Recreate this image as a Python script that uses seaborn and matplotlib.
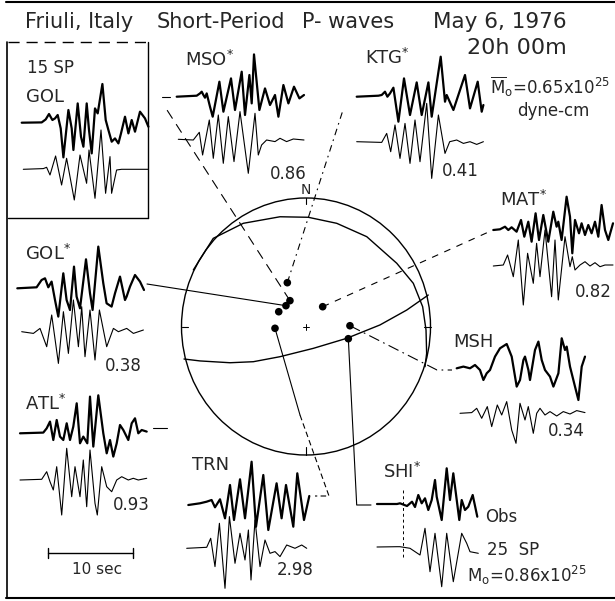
import matplotlib
matplotlib.use("Agg")
import matplotlib.pyplot as plt
import seaborn as sns
import pandas as pd
from matplotlib.patches import Ellipse

sns.set_theme(style="white")
plt.rcParams['font.family'] = ['DejaVu Sans']

# ---------------- data ----------------
# Waveforms: (time, amplitude) pairs; time in scale-bar units (85 units = 10 s),
# amplitude in relative units (positive = up)
GOL15_OBS = [(0,0),(20,0.3),(24,3.3),(27.3,8.7),(30.7,2.7),(33.3,4.3),(36,7.7),(39,-5.7),(41.7,-34.7),(46.7,12.7),(50,-5.7),(51.7,-27.3),(56,19.3),(59.3,-14),(61.7,-24),(65,19.3),(67.3,-7.3),(70,-30.7),(73.3,14.3),(76,9.3),(80.7,38.7),(84,2.7),(86.7,-7.3),(90,-19),(93.3,-15.7),(96.7,-20.7),(99.3,-10.7),(103.3,6),(106.7,-10.7),(110,2.7),(113.3,-9),(118.3,11),(123.3,4.3),(126.7,-4)]
GOL15_SYN = [(0,0),(20,0.7),(23.3,2),(26.7,-5.7),(32.3,13.3),(38.3,-15.7),(43.3,11),(51,-30.7),(56.7,14.3),(63.3,-14),(65.7,19.3),(71.7,-29),(77.7,39.3),(82.3,-24),(86.7,12.7),(88.3,-24),(93.3,-0.7),(98.3,0),(125,0)]
MSO_OBS = [(0,0),(20,1),(23.3,3.3),(25,5),(26.7,1.7),(28.3,-1),(30,3.3),(33.3,-10),(36,-20),(42.7,15),(46.7,-15),(54.3,18.3),(58.3,-13.3),(65,25),(68.3,-18.3),(72.7,21.7),(75,-6.7),(77.3,42.3),(82.7,-13.3),(88.3,8.3),(93.3,-8.3),(98.3,1.7),(101.7,-20),(106.7,11.7),(111.7,-6.7),(117.3,10),(122.7,-1.7),(127.3,1.7)]
MSO_SYN = [(0,0),(15,-0.7),(21,7),(24.3,-15.7),(31,19.3),(35,-19),(40,24.3),(45,-24),(50,22.7),(55.7,-22.3),(61.7,27.7),(70,-34),(76.7,26),(80,-15.7),(83.3,-5.7),(88.3,-0.7),(96.7,-2.3),(101.7,1),(108.3,-2.3),(115,0.3),(125.7,-0.7)]
KTG_OBS = [(0,0),(21.7,1),(25,1.7),(28.3,5),(30.7,0),(33.3,3.3),(36.7,9),(41.7,-25),(47.3,18.3),(53.3,-18.3),(60,14.3),(65,-18.3),(71.7,14.3),(75,-20),(84,40),(88.3,-5),(90,1.7),(96.7,-13.3),(108.3,21.7),(113.3,-11.7),(121,15),(125,-15),(126.7,-8.3)]
KTG_SYN = [(0,0),(25,-0.7),(30,8.3),(34,-10),(38.3,16.7),(43.3,-16.7),(48.3,18.3),(53.3,-21.7),(58.3,21.7),(63.3,-20),(70,38.3),(75,-36.7),(81.7,26.7),(88.3,-11.7),(93,0),(100,1.7),(106.7,-1.7),(113.3,0),(120,-2.7),(126.7,0)]
MAT_OBS = [(0,0),(6.7,0.7),(11.7,3.3),(15,0),(18.3,2.7),(23.3,-1.7),(27.7,10),(31,-6.7),(35,8.3),(38.3,-11.7),(42.3,16.7),(45.7,-10),(50,15),(55,-11.7),(60,18.3),(63.3,3.3),(65,8.3),(68.3,-10),(73.3,33.3),(76.7,13.3),(79,-23.3),(81.7,10),(85.7,-3.3),(88.3,6.7),(91.7,-5),(95,5),(98.3,-3.3),(101.7,8.3),(105,-6.7),(108.3,25),(111.7,0),(115,-10),(119.7,6.7)]
MAT_SYN = [(0,0),(10,1),(14.3,11),(20,-10.7),(25,26),(30,-39),(34.3,12.7),(40,-17.3),(43.3,22.7),(46.7,-10.7),(51.7,36),(58.3,-30.7),(61.7,26),(65,-34),(71.7,29.3),(76.7,-0.7),(79,9.3),(81.7,-4),(86.7,1),(91.7,4.3),(96.7,0),(101.7,3.3),(106.7,-0.7),(111.7,1),(119.7,1)]
MSH_OBS = [(0,0),(6.7,1.7),(13.3,0),(18.3,3.3),(23.3,-1.7),(26.7,-11.7),(30,-5),(33.3,-1.7),(38.3,11.7),(43.3,20),(50,24.3),(55,11.7),(60,-18.3),(63.3,-11.7),(66.7,8.3),(68.3,11.7),(71.7,-1.7),(73.3,-11.7),(78.3,18.3),(81.7,26.7),(85,8.3),(88.3,-1.7),(93.3,-8.3),(96.7,-18.3),(101.7,-5),(105,30),(108.3,18.3),(110,21.7),(113.3,1.7),(118.3,-18.3),(121.7,-31.7),(125,1.7),(128.3,11.7)]
MSH_SYN = [(0,0),(11.7,0.7),(16.7,5),(21.7,-5),(27.3,6.7),(31.7,-13.3),(37.3,8.3),(41.7,-1.7),(46.7,11.7),(51.7,-16.7),(56,-30),(60,10),(65,-6.7),(68.3,6.7),(73.3,-20),(76.7,0),(80,5),(85,-1.7),(90,1.7),(96.7,-2.7),(103.3,1.7),(110,-0.7),(116.7,2.7),(125,0.7)]
SHI_OBS = [(0,0),(20,0),(23,0.7),(30,-2),(35,2.3),(38,-3),(41.3,9),(44.7,0.7),(48,5.7),(51.3,-6),(54.7,4),(58,24),(59.7,7.3),(64.7,-16),(69.7,35.7),(73,4),(76.3,30.7),(82.3,-16),(84.7,4),(88,-6),(91.3,-2.7),(95.7,9),(100.3,-12.7)]
SHI_SYN = [(0,0),(20,0.3),(23,0.3),(33,-1.3),(43,-8),(48,18.7),(53,-24.7),(58,13.7),(64.7,-39.7),(69.7,13.7),(76.3,-34.7),(84.7,13.7),(89.7,3.7),(93,-4.7),(101.3,-6.3)]
TRN_OBS = [(0,0),(11.7,1.7),(18.3,3.3),(23.3,5),(26.7,-2.3),(31.7,5.7),(36.7,-13.3),(41.7,20),(45.7,-15),(51.7,25.7),(56.7,-13.3),(63.3,43.3),(67.7,-21.7),(75,30),(80,-25),(88.3,21.7),(93.3,-13.3),(97.7,20),(105,-21.7),(109,31.7),(115.7,-15),(121,9)]
TRN_SYN = [(0,0),(20,1),(24,10),(28.3,-18.3),(32.7,25),(38.3,-40),(42.7,31.7),(48.3,-15),(53.3,15),(58.3,-11.7),(61.7,18.3),(64.3,-31.7),(68.3,28.3),(73.3,-18.3),(78.3,8.3),(83.3,-5),(88.3,-3.3),(93.3,-8.3),(100,3.3),(108.3,0),(115,3.3),(120,0)]
GOLS_OBS = [(0,0),(19.3,1),(24.3,8.3),(27.7,10),(31,1),(34.3,6.7),(37.7,-11.7),(41,-28.3),(46,15),(49.3,-11.7),(52.7,-21.7),(56.7,21.7),(59.3,-8.3),(62.7,-20),(68.7,29),(72.7,-5),(75.3,-21.7),(81,41.7),(86,5),(89.3,-15),(94.3,-18.3),(97.7,-5),(102.7,11.7),(107.7,-11.7),(109.3,-8.3),(112.7,1.7),(117.7,13.3),(122.7,6.7),(126.7,-1.7)]
GOLS_SYN = [(0,0),(11.7,-1.7),(18.3,3.3),(25,-15),(30,16.7),(36.7,-31.7),(41.7,20),(46.7,-21.7),(51.7,31.7),(56.7,-15),(60,25),(63.3,-25),(68.3,21.7),(73.3,-28.3),(77.7,21.7),(85,-15),(91.7,3.3),(96.7,0),(105,3.3),(111.7,-1.7),(121.7,1.7)]
ATL_OBS = [(0,0),(23.3,0.7),(26.7,5),(30,11.7),(33.3,-6.7),(36.7,13.3),(40,-3.3),(43.3,-6.7),(46.7,10),(50,-6.7),(53.3,6.7),(56.7,30),(60,-10),(63.3,-3.3),(67.3,-10),(70,36.7),(73.3,-13.3),(78.3,38),(83.3,0),(86.7,-20),(90,-6.7),(93.3,-23.3),(96.7,-10),(100,8.3),(103.3,3.3),(108.3,-6.7),(111.7,10),(115,15),(118.3,0),(121.7,3.3),(126.7,1.7)]
ATL_SYN = [(0,0),(21.7,0.7),(26.7,8.3),(30,-1.7),(33.3,-10),(36.7,13.3),(41.7,-35),(46.7,31.7),(51.7,-16.7),(55,13.3),(60,-16.7),(63.3,20),(66.7,-26.7),(70,30),(75,-23.3),(77.3,-35),(81.7,13.3),(86.7,-6.7),(91.7,-11.7),(96.7,0),(101.7,3.3),(108.3,0),(113.3,1.7),(118.3,0),(126.7,1.7)]

# Focal sphere (unit radius coordinates, x east, y north)
PLANE_A = [(-0.905,0.440),(-0.745,0.686),(-0.504,0.803),(-0.209,0.854),(0.018,0.850),(0.247,0.803),(0.488,0.699),(0.729,0.492),(0.862,0.336),(0.937,0.154),(0.964,-0.027),(0.969,-0.209),(0.956,-0.313)]
PLANE_B = [(-0.980,-0.253),(-0.851,-0.268),(-0.610,-0.282),(-0.423,-0.274),(-0.209,-0.235),(0.059,-0.170),(0.327,-0.092),(0.594,0.012),(0.809,0.128),(0.982,0.245)]
STATIONS = ["KTG", "MSO", "GOL", "ATL", "MAT", "TRN", "MSH", "SHI"]
STA_X = [-0.150, -0.129, -0.161, -0.219, 0.134, -0.249, 0.353, 0.340]
STA_Y = [0.341, 0.201, 0.162, 0.115, 0.154, -0.014, 0.006, -0.095]

# ---------------- layout ----------------
fig = plt.figure(figsize=(6.15, 6.01), dpi=100)
ax = fig.add_axes([0, 0, 1, 1])
ax.set_xlim(0, 615)
ax.set_ylim(601, 0)
ax.axis('off')

CX, CY, RX, RY = 306, 326.5, 124.5, 128.5
def sph(u, v):
    return CX + RX * u, CY - RY * v

K = 'black'

# traces: name -> (data, x0, baseline, thick?)
traces = {
    'GOL15_OBS': (GOL15_OBS, 21.7, 122.7, True), 'GOL15_SYN': (GOL15_SYN, 23.3, 169.3, False),
    'MSO_OBS': (MSO_OBS, 176.7, 96.7, True), 'MSO_SYN': (MSO_SYN, 178.3, 139.3, False),
    'KTG_OBS': (KTG_OBS, 356.7, 96.7, True), 'KTG_SYN': (KTG_SYN, 356.7, 141.7, False),
    'MAT_OBS': (MAT_OBS, 493.3, 230, True), 'MAT_SYN': (MAT_SYN, 493.3, 266, False),
    'MSH_OBS': (MSH_OBS, 456.7, 368.3, True), 'MSH_SYN': (MSH_SYN, 460, 413.3, False),
    'SHI_OBS': (SHI_OBS, 377, 504, True), 'SHI_SYN': (SHI_SYN, 377, 547, False),
    'TRN_OBS': (TRN_OBS, 188.3, 505, True), 'TRN_SYN': (TRN_SYN, 186.7, 548.3, False),
    'GOLS_OBS': (GOLS_OBS, 17.3, 288.3, True), 'GOLS_SYN': (GOLS_SYN, 21.7, 331.7, False),
    'ATL_OBS': (ATL_OBS, 20, 433.3, True), 'ATL_SYN': (ATL_SYN, 20, 480, False),
}
rows_thick, rows_thin = [], []
for name, (data, x0, y0, thick) in traces.items():
    for i, (t, a) in enumerate(data):
        row = {'trace': name, 'i': i, 'x': x0 + t, 'y': y0 - a}
        (rows_thick if thick else rows_thin).append(row)
df_thick = pd.DataFrame(rows_thick)
df_thin = pd.DataFrame(rows_thin)
sns.lineplot(data=df_thick, x='x', y='y', units='trace', estimator=None, sort=False,
             color=K, lw=1.6, solid_joinstyle='round', ax=ax)
sns.lineplot(data=df_thin, x='x', y='y', units='trace', estimator=None, sort=False,
             color=K, lw=0.8, solid_joinstyle='round', ax=ax)

# focal sphere
ax.add_patch(Ellipse((CX, CY), 2 * RX, 2 * RY, fill=False, ec=K, lw=1.0))
for plane in (PLANE_A, PLANE_B):
    px = [sph(u, v) for u, v in plane]
    sns.lineplot(x=[p[0] for p in px], y=[p[1] for p in px], sort=False, estimator=None,
                 color=K, lw=1.0, ax=ax)
# ticks on sphere
for (u1, v1, u2, v2) in [(0, 1, 0, 0.95), (0, -1, 0, -0.94), (-1, 0, -0.95, 0), (1, 0, 0.95, 0)]:
    a, b = sph(u1, v1); c, d = sph(u2, v2)
    ax.plot([a, c], [b, d], color=K, lw=0.8)
ax.plot([CX - 3, CX + 3], [CY, CY], color=K, lw=0.7)
ax.plot([CX, CX], [CY - 3, CY + 3], color=K, lw=0.7)
ax.text(CX, 190, 'N', ha='center', va='center', fontsize=10)

sx, sy = zip(*[sph(u, v) for u, v in zip(STA_X, STA_Y)])
sta = dict(zip(STATIONS, zip(sx, sy)))

# leader lines
def leader(pts, ls, lw=0.8):
    sns.lineplot(x=[p[0] for p in pts], y=[p[1] for p in pts], sort=False, estimator=None,
                 color=K, lw=lw, linestyle=ls, ax=ax)

leader([sta['KTG'], (343, 110)], (0, (6, 4, 1.5, 4)))
leader([sta['MSO'], (167, 110)], (0, (9, 6)))
leader([sta['MAT'], (493, 230)], (0, (6, 6)))
leader([(147, 284), sta['GOL']], '-')
leader([sta['TRN'], (300, 415)], '-')
leader([(300, 415), (329, 496), (315, 496)], (0, (5, 3)))
leader([sta['SHI'], (356.7, 505), (371, 505)], '-')
leader([sta['MSH'], (437, 370), (452, 370)], (0, (10, 4, 1.5, 4)))
ax.plot([162, 170], [97, 97], color=K, lw=0.8)
ax.plot([153, 167], [428, 428], color=K, lw=0.8)
ax.plot([403, 403], [490, 557], color=K, lw=0.7, linestyle=(0, (3, 3)))

sns.scatterplot(x=list(sx), y=list(sy), color=K, s=30, edgecolor='none', ax=ax, legend=False)

# frame and inset box
ax.plot([6, 615], [2, 2], color=K, lw=1.5)
ax.plot([6, 615], [598, 598], color=K, lw=1.5)
ax.plot([6.5, 6.5], [42, 598], color=K, lw=1.2)
ax.plot([8, 148], [42, 42], color=K, lw=1.0, linestyle=(0, (8, 5)))
ax.plot([148, 148], [42, 218], color=K, lw=1.0)
ax.plot([8, 148], [218, 218], color=K, lw=1.0)

# scale bar
ax.plot([48, 133], [553, 553], color=K, lw=1.0)
ax.plot([48, 48], [548, 558], color=K, lw=1.0)
ax.plot([133, 133], [548, 558], color=K, lw=1.0)

# texts
def txt(x, y, s, size=13, **kw):
    ax.text(x, y, s, fontsize=size, ha='left', va='center', **kw)

txt(25, 22, 'Friuli, Italy', 15)
txt(157, 22, 'Short-Period', 15)
txt(302, 22, 'P- waves', 15)
txt(433, 22, 'May 6, 1976', 15.5)
txt(467, 48, '20h 00m', 16)
txt(27, 68, '15 SP', 12)
txt(26, 97, 'GOL', 13)
txt(185, 60, 'MSO$^{*}$', 13)
txt(365, 58, 'KTG$^{*}$', 13)
txt(490, 87, r'$\overline{\mathrm{M}}_{\mathrm{o}}$=0.65x10$^{25}$', 12)
txt(517, 111, 'dyne-cm', 12)
txt(270, 174, '0.86', 12)
txt(442, 171, '0.41', 12)
txt(500, 200, 'MAT$^{*}$', 13)
txt(575, 292, '0.82', 12)
txt(453, 342, 'MSH', 13)
txt(548, 431, '0.34', 12)
txt(383, 472, 'SHI$^{*}$', 13)
txt(485, 517, 'Obs', 12)
txt(487, 550, '25  SP', 12)
txt(467, 575, r'M$_{\mathrm{o}}$=0.86x10$^{25}$', 12)
txt(192, 465, 'TRN', 13)
txt(277, 570, '2.98', 12)
txt(25, 254, 'GOL$^{*}$', 13)
txt(105, 366, '0.38', 12)
txt(25, 404, 'ATL$^{*}$', 13)
txt(113, 505, '0.93', 12)
txt(72, 570, '10 sec', 11)

fig.savefig('out.png', dpi=100)
